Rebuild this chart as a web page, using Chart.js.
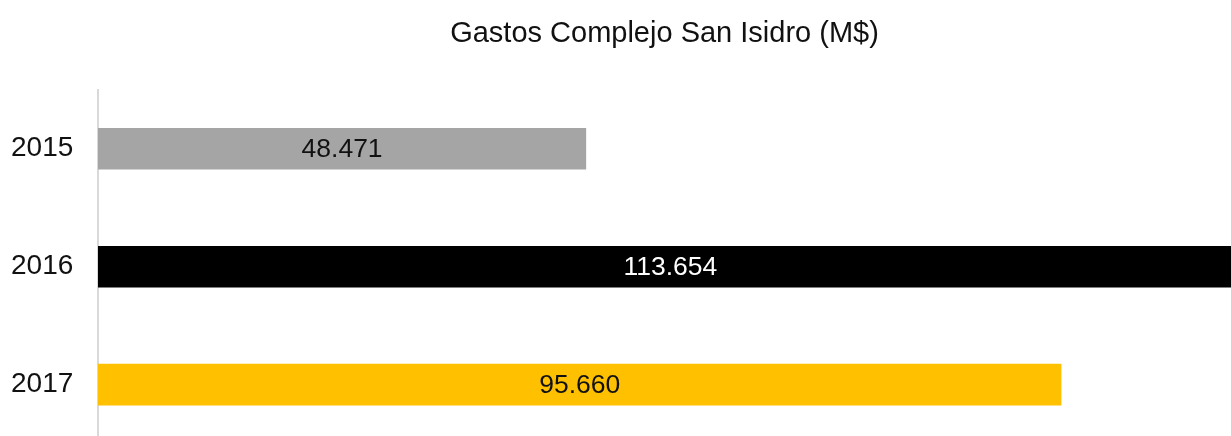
<!DOCTYPE html>
<html>
<head>
<meta charset="utf-8">
<title>Gastos Complejo San Isidro (M$)</title>
<script src="https://cdn.jsdelivr.net/npm/chart.js@4/dist/chart.umd.min.js"></script>
<style>
    html, body { margin: 0; padding: 0; background: #fff; overflow: hidden; }
    canvas { display: block; }
</style>
</head>
<body>
<canvas id="chart" width="1231" height="445"></canvas>
<script>
// ── Data ────────────────────────────────────────
const years = ['2015', '2016', '2017'];
const gastos = [48.471, 113.654, 95.660];
const barColors = ['#a5a5a5', '#000000', '#ffc000'];
const labelColors = ['#111111', '#ffffff', '#111111'];

const FONT = "'Liberation Sans', Arial, sans-serif";

// value labels centred on each bar (full bar length, even if clipped)
const centerLabels = {
    id: 'centerLabels',
    afterDatasetsDraw(chart) {
        const { ctx } = chart;
        const meta = chart.getDatasetMeta(0);
        ctx.save();
        ctx.font = `26.5px ${FONT}`;
        ctx.textAlign = 'center';
        ctx.textBaseline = 'middle';
        meta.data.forEach((bar, i) => {
            const { x, y, base } = bar.getProps(['x', 'y', 'base'], true);
            ctx.fillStyle = labelColors[i];
            ctx.fillText(gastos[i].toFixed(3), (x + base) / 2, y + 1);
        });
        ctx.restore();
    }
};

new Chart(document.getElementById('chart'), {
    type: 'bar',
    data: {
        labels: years,
        datasets: [{
            data: gastos,
            backgroundColor: barColors,
            borderWidth: 0,
            barPercentage: 0.353,
            categoryPercentage: 1
        }]
    },
    options: {
        indexAxis: 'y',
        responsive: false,
        animation: false,
        layout: { padding: { left: 11, right: 0, top: 0, bottom: 0 } },
        plugins: {
            legend: { display: false },
            tooltip: { enabled: false },
            title: {
                display: true,
                text: 'Gastos Complejo San Isidro (M$)',
                fullSize: false,
                color: '#111111',
                font: { family: FONT, size: 29, weight: 'normal' },
                padding: { top: 17, bottom: 38 }
            }
        },
        scales: {
            x: { display: false, min: 0, max: 112.5 },
            y: {
                grid: { display: false, drawTicks: false, tickLength: 0 },
                border: { display: true, color: '#d9d9d9', width: 2 },
                ticks: {
                    color: '#111111',
                    padding: 0,
                    crossAlign: 'far',
                    font: { family: FONT, size: 28, lineHeight: 0.1 }
                },
                afterFit(scale) { scale.width = 87; }
            }
        }
    },
    plugins: [centerLabels]
});
</script>
</body>
</html>
